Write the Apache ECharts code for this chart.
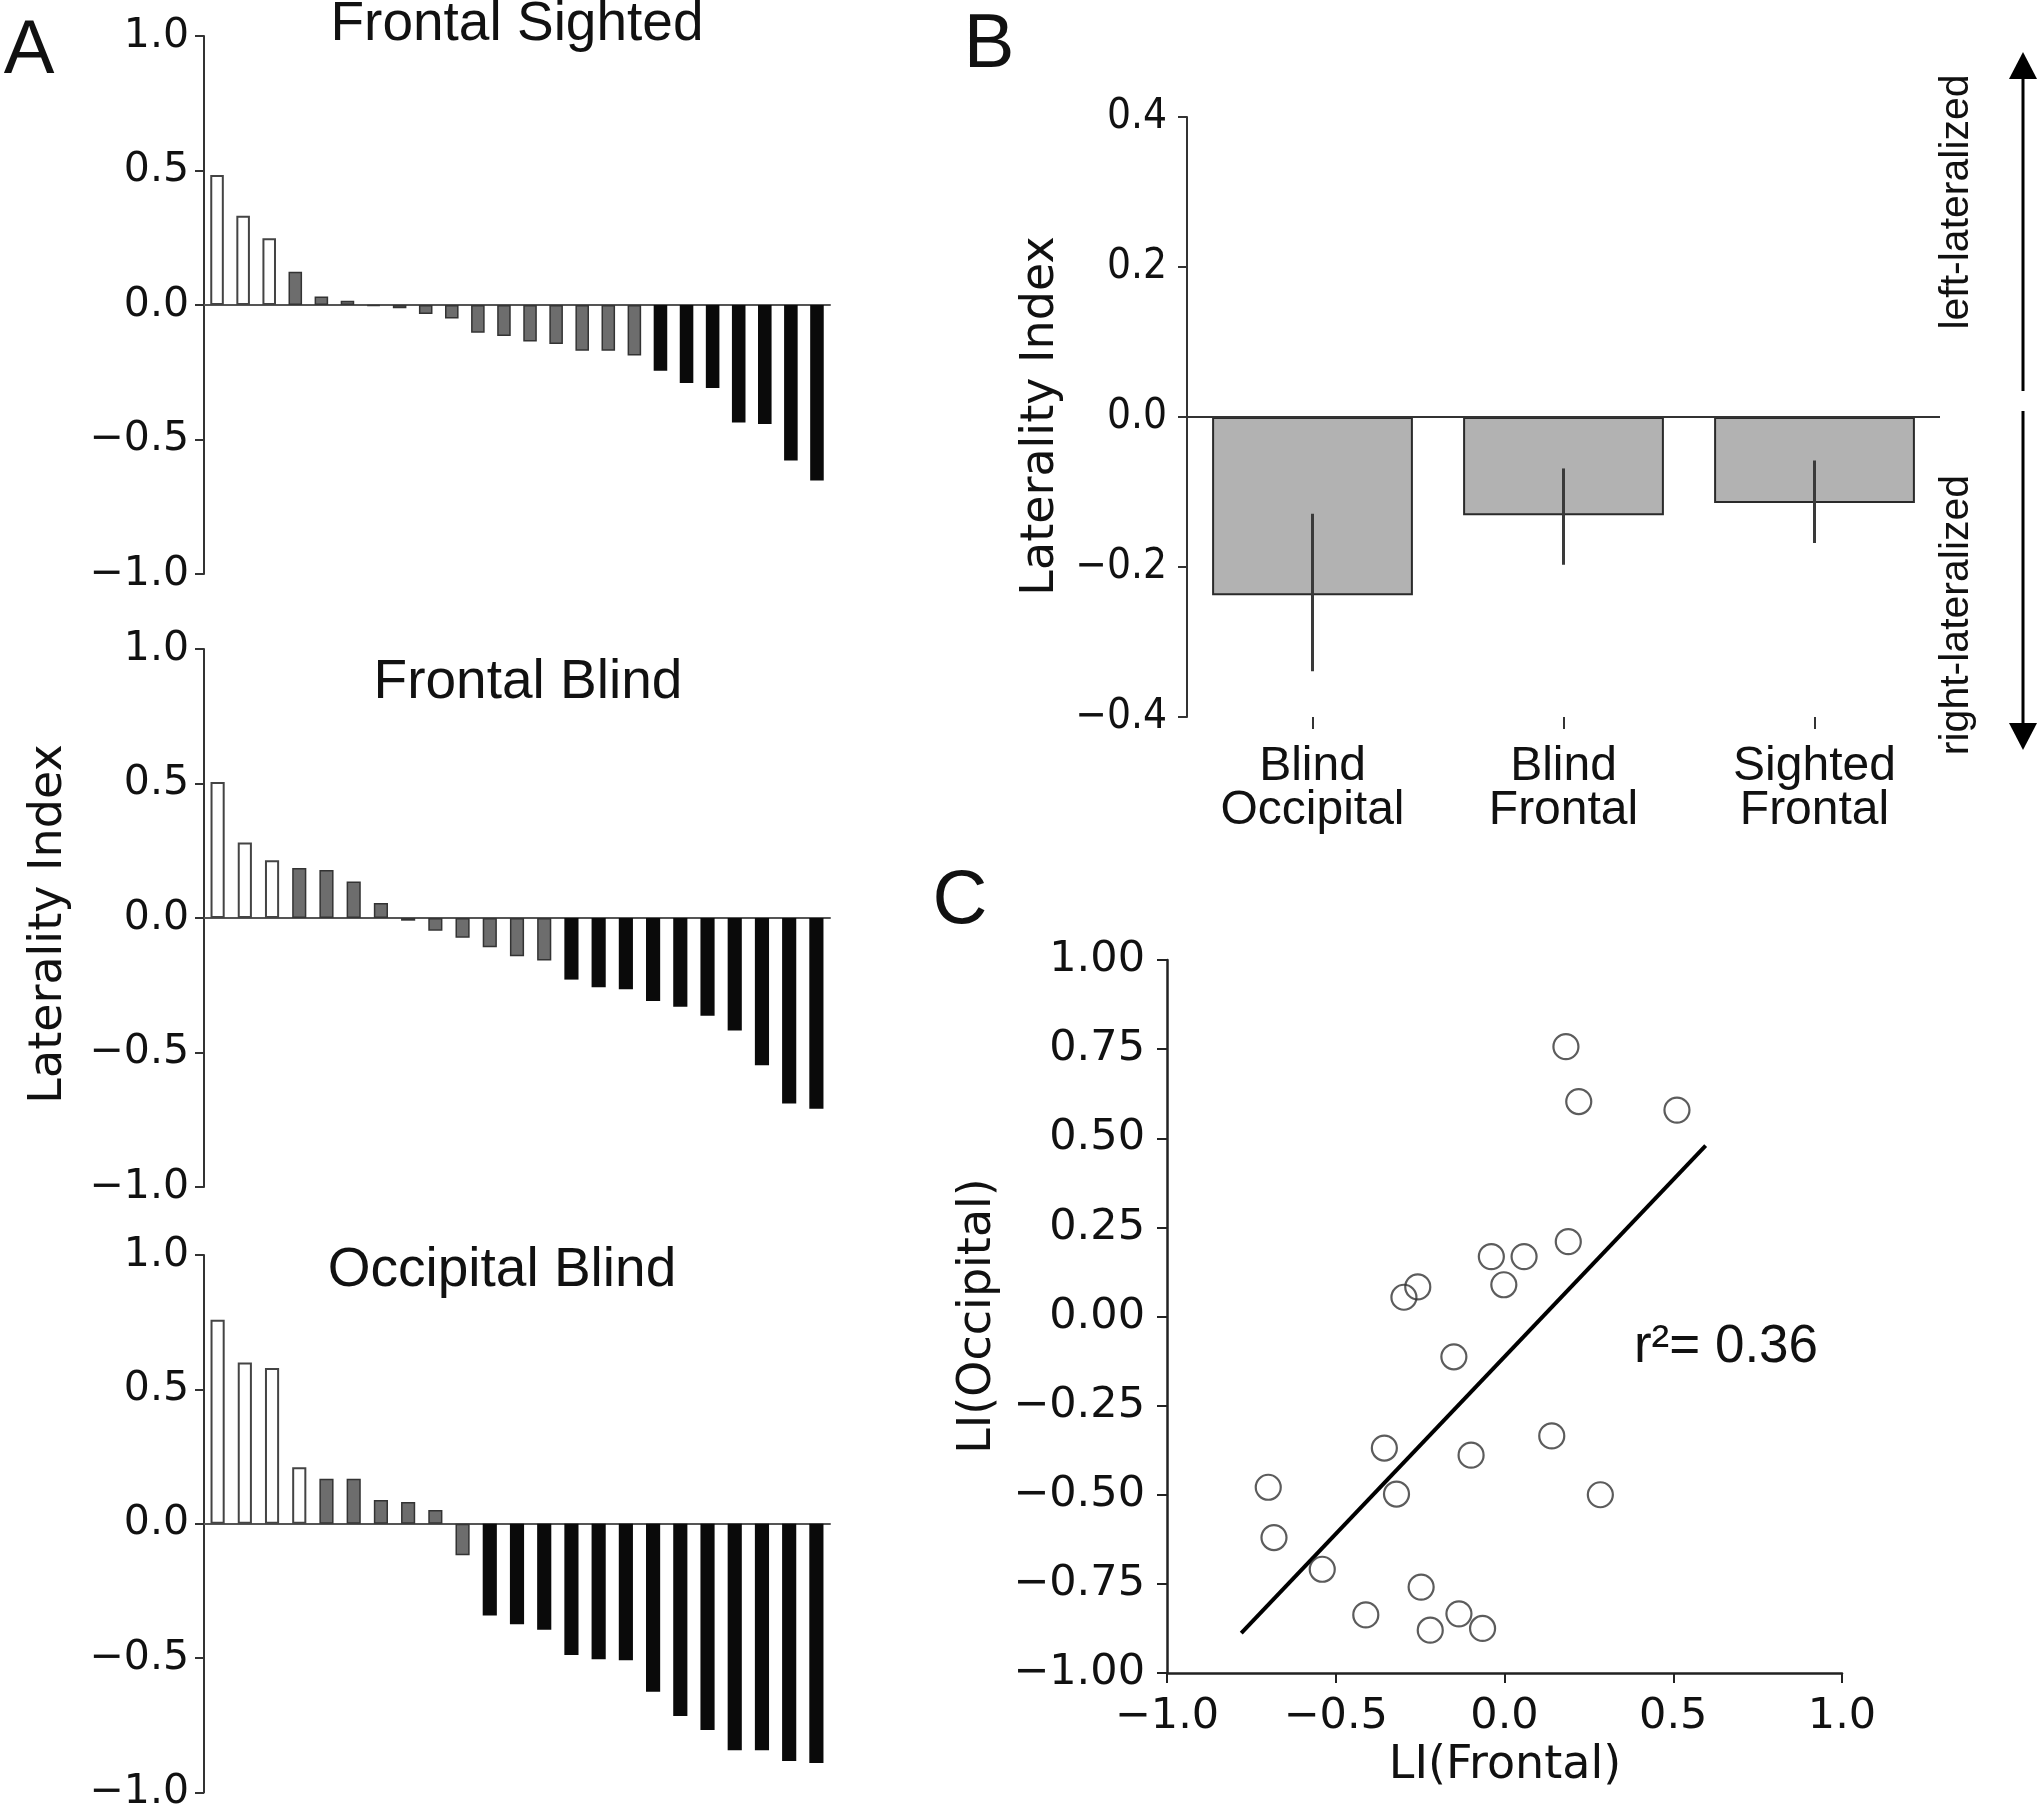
<!DOCTYPE html>
<html><head><meta charset="utf-8">
<script src="https://cdn.jsdelivr.net/npm/echarts@6/dist/echarts.min.js"></script>
<style>html,body{margin:0;padding:0;background:#fff}#c{width:2040px;height:1813px}</style>
</head><body><div id="c"></div><script>
// ---- Panel A data (sorted laterality indices per subject) ----
const frontalSightedLI = [0.483, 0.332, 0.248, 0.124, 0.032, 0.016, -0.003, -0.012, -0.033, -0.05, -0.103, -0.115, -0.136, -0.145, -0.17, -0.17, -0.188, -0.244, -0.29, -0.309, -0.437, -0.442, -0.578, -0.652];
const frontalSightedClass = ['L','L','L','N','N','N','N','N','N','N','N','N','N','N','N','N','N','R','R','R','R','R','R','R'];
const frontalBlindLI = [0.506, 0.281, 0.215, 0.186, 0.178, 0.136, 0.056, -0.01, -0.047, -0.073, -0.109, -0.142, -0.158, -0.229, -0.257, -0.265, -0.309, -0.33, -0.363, -0.418, -0.547, -0.69, -0.709];
const frontalBlindClass = ['L','L','L','N','N','N','N','N','N','N','N','N','N','R','R','R','R','R','R','R','R','R','R'];
const occipitalBlindLI = [0.759, 0.600, 0.58, 0.21, 0.167, 0.167, 0.088, 0.081, 0.051, -0.117, -0.341, -0.374, -0.394, -0.488, -0.504, -0.508, -0.625, -0.715, -0.767, -0.843, -0.843, -0.883, -0.89];
const occipitalBlindClass = ['L','L','L','L','N','N','N','N','N','N','R','R','R','R','R','R','R','R','R','R','R','R','R'];
const panelATitles = ['Frontal Sighted', 'Frontal Blind', 'Occipital Blind'];
const panelATicks = [-1, -0.5, 0, 0.5, 1];

// ---- Panel B data ----
const groupLabels = ['Blind\nOccipital', 'Blind\nFrontal', 'Sighted\nFrontal'];
const groupMeans = [-0.2375, -0.131, -0.1146];
const groupErrLow = [-0.339, -0.197, -0.168];
const groupErrHigh = [-0.129, -0.0686, -0.058];

// ---- Panel C data ----
const frontalBlindX = [0.182, 0.220, 0.511, 0.189, -0.039, 0.058, -0.002, -0.257, -0.298, -0.150, 0.140, -0.356, -0.099, -0.700, -0.320, 0.284, -0.683, -0.540, -0.247, -0.411, -0.135, -0.220, -0.065];
const occipitalBlindY = [0.757, 0.603, 0.579, 0.210, 0.168, 0.168, 0.089, 0.083, 0.054, -0.113, -0.335, -0.369, -0.389, -0.479, -0.498, -0.500, -0.620, -0.709, -0.759, -0.837, -0.834, -0.880, -0.875];
const fitLineX = [-0.780, 0.596];
const fitLineY = [-0.888, 0.479];
const rSquaredText = 'r\u00B2= 0.36';

const DJ = "'DejaVu Sans', sans-serif";
const DJC = "'DejaVu Sans Condensed', 'DejaVu Sans', sans-serif";
const LS = "'Liberation Sans', Arial, sans-serif";
const fmt = d => v => (v < 0 ? '\u2212' : '') + Math.abs(v).toFixed(d);

const classStyle = {
  L: {color: '#ffffff', borderColor: '#444444', borderWidth: 2},
  N: {color: '#6d6d6d', borderColor: '#333333', borderWidth: 1.5},
  R: {color: '#0a0a0a', borderColor: '#0a0a0a', borderWidth: 0}
};

const aGrids = [
  {left: 204, top: 36, width: 626, height: 538},
  {left: 204, top: 649, width: 626, height: 538},
  {left: 204, top: 1255, width: 626, height: 540}
];
const aData = [[frontalSightedLI, frontalSightedClass], [frontalBlindLI, frontalBlindClass], [occipitalBlindLI, occipitalBlindClass]];

const grid = aGrids.concat([
  {left: 1187, top: 117, width: 753, height: 600},
  {left: 1167, top: 960, width: 675, height: 713}
]);

const xAxis = [], yAxis = [], series = [];
aData.forEach(([vals, cls], i) => {
  xAxis.push({
    type: 'category', gridIndex: i, data: vals.map((_, k) => String(k + 1)),
    axisLine: {show: true, onZero: true, lineStyle: {color: '#555', width: 2}},
    axisTick: {show: false}, axisLabel: {show: false}, splitLine: {show: false}
  });
  yAxis.push({
    type: 'value', gridIndex: i, min: panelATicks[0], max: panelATicks[panelATicks.length - 1], interval: 0.5,
    axisLine: {show: true, lineStyle: {color: '#333', width: 2}},
    axisTick: {show: true, length: 9, lineStyle: {color: '#333', width: 2}},
    axisLabel: {fontFamily: DJ, fontSize: 41, color: '#111', margin: 15, formatter: fmt(1)},
    splitLine: {show: false}
  });
  series.push({
    type: 'bar', xAxisIndex: i, yAxisIndex: i, barWidth: '52%',
    data: vals.map((v, k) => ({value: v, itemStyle: classStyle[cls[k]]})),
    silent: true, animation: false
  });
});

// Panel B axes
xAxis.push({
  type: 'category', gridIndex: 3, data: groupLabels,
  axisLine: {show: false, onZero: false},
  axisTick: {show: true, alignWithLabel: true, length: 12, lineStyle: {color: '#333', width: 2}},
  axisLabel: {fontFamily: LS, fontSize: 48, color: '#111', lineHeight: 44, margin: 28},
  splitLine: {show: false}
});
yAxis.push({
  type: 'value', gridIndex: 3, min: -0.4, max: 0.4, interval: 0.2,
  axisLine: {show: true, lineStyle: {color: '#333', width: 2}},
  axisTick: {show: true, length: 9, lineStyle: {color: '#333', width: 2}},
  axisLabel: {fontFamily: DJC, fontSize: 42, color: '#111', margin: 20, formatter: fmt(1)},
  splitLine: {show: false}
});
series.push({
  type: 'bar', xAxisIndex: 3, yAxisIndex: 3, barWidth: '80%', data: groupMeans,
  itemStyle: {color: '#b2b2b2', borderColor: '#2a2a2a', borderWidth: 2},
  silent: true, animation: false,
  markLine: {silent: true, symbol: 'none', label: {show: false}, animation: false,
    lineStyle: {color: '#333', width: 2, type: 'solid'}, data: [{yAxis: 0}]}
});
series.push({
  type: 'custom', xAxisIndex: 3, yAxisIndex: 3, silent: true, animation: false,
  data: groupMeans.map((m, k) => [k, groupErrLow[k], groupErrHigh[k]]),
  encode: {x: 0, y: [1, 2]},
  renderItem: (params, api) => {
    const a = api.coord([api.value(0), api.value(1)]);
    const b = api.coord([api.value(0), api.value(2)]);
    return {type: 'line', shape: {x1: a[0], y1: a[1], x2: b[0], y2: b[1]},
      style: {stroke: '#3a3a3a', lineWidth: 3}};
  },
  z: 5
});

// Panel C axes
xAxis.push({
  type: 'value', gridIndex: 4, min: -1, max: 1, interval: 0.5,
  axisLine: {show: true, onZero: false, lineStyle: {color: '#222', width: 2.5}},
  axisTick: {show: true, length: 10, lineStyle: {color: '#222', width: 2}},
  axisLabel: {fontFamily: DJ, fontSize: 43, color: '#111', margin: 22, formatter: fmt(1)},
  splitLine: {show: false}
});
yAxis.push({
  type: 'value', gridIndex: 4, min: -1, max: 1, interval: 0.25,
  axisLine: {show: true, onZero: false, lineStyle: {color: '#222', width: 2.5}},
  axisTick: {show: true, length: 10, lineStyle: {color: '#222', width: 2}},
  axisLabel: {fontFamily: DJ, fontSize: 43, color: '#111', margin: 22, formatter: fmt(2)},
  splitLine: {show: false}
});
series.push({
  type: 'scatter', xAxisIndex: 4, yAxisIndex: 4, symbol: 'circle', symbolSize: 25,
  data: frontalBlindX.map((x, k) => [x, occipitalBlindY[k]]),
  itemStyle: {color: 'rgba(255,255,255,0)', borderColor: '#333', borderWidth: 2.2},
  silent: true, animation: false
});
series.push({
  type: 'line', xAxisIndex: 4, yAxisIndex: 4, showSymbol: false, symbol: 'none',
  data: fitLineX.map((x, k) => [x, fitLineY[k]]),
  lineStyle: {color: '#000', width: 4}, silent: true, animation: false, z: 1
});

const txt = (x, y, text, font, size, opts = {}) => ({
  type: 'text', x, y, rotation: opts.rot || 0, silent: true,
  style: {text, fontFamily: font, fontSize: size, fill: '#111', textAlign: 'center', textVerticalAlign: 'middle'}
});

const graphic = [
  txt(29, 52, 'A', LS, 76),
  txt(989, 46, 'B', LS, 76),
  txt(960, 902, 'C', LS, 76),
  txt(517, 25, panelATitles[0], LS, 55),
  txt(528, 683, panelATitles[1], LS, 55),
  txt(502, 1271, panelATitles[2], LS, 55),
  txt(49, 924, 'Laterality Index', DJ, 46, {rot: Math.PI / 2}),
  txt(1041, 416, 'Laterality Index', DJ, 46, {rot: Math.PI / 2}),
  txt(978, 1316, 'LI(Occipital)', DJ, 46, {rot: Math.PI / 2}),
  txt(1505, 1766, 'LI(Frontal)', DJ, 46),
  txt(1726, 1347, rSquaredText, LS, 53),
  txt(1957, 202, 'left-lateralized', LS, 41, {rot: Math.PI / 2}),
  txt(1957, 615, 'right-lateralized', LS, 41, {rot: Math.PI / 2}),
  {type: 'line', silent: true, shape: {x1: 2023, y1: 70, x2: 2023, y2: 391}, style: {stroke: '#000', lineWidth: 3}},
  {type: 'polygon', silent: true, shape: {points: [[2023, 52], [2037, 79], [2009, 79]]}, style: {fill: '#000'}},
  {type: 'line', silent: true, shape: {x1: 2023, y1: 411, x2: 2023, y2: 732}, style: {stroke: '#000', lineWidth: 3}},
  {type: 'polygon', silent: true, shape: {points: [[2023, 750], [2037, 723], [2009, 723]]}, style: {fill: '#000'}}
];

const chart = echarts.init(document.getElementById('c'), null, {renderer: 'canvas'});
chart.setOption({
  backgroundColor: '#ffffff', animation: false,
  grid, xAxis, yAxis, series, graphic
});
</script></body></html>
